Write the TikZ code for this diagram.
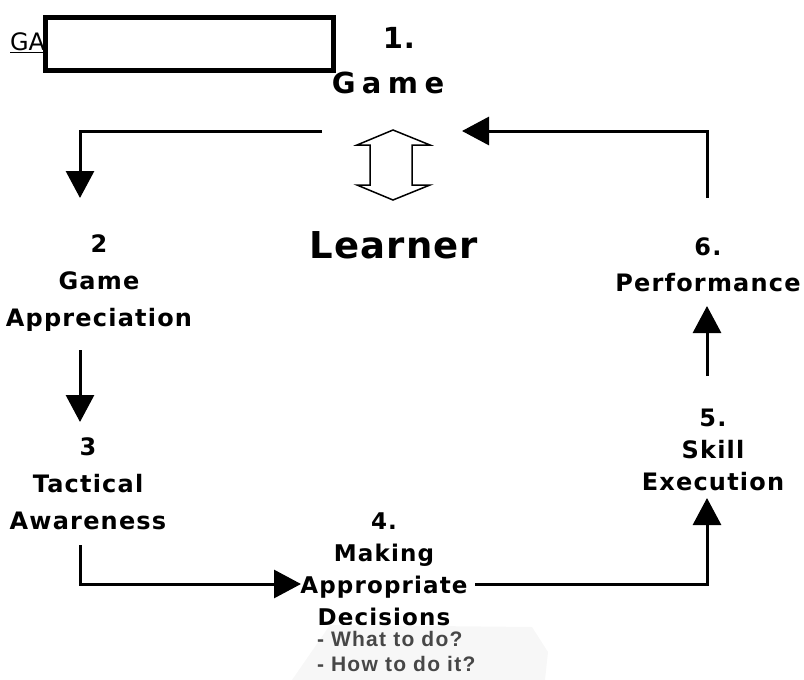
\documentclass[tikz,border=0pt]{standalone}
\usepackage{fontspec}
\setmainfont{DejaVu Sans}
\newfontfamily\stagefont[LetterSpace=5]{DejaVu Sans}
\newfontfamily\titlefont[LetterSpace=22]{DejaVu Sans}
\newfontfamily\learnfont[LetterSpace=3]{DejaVu Sans}
\newfontfamily\notefont[LetterSpace=6]{Liberation Sans}
\usetikzlibrary{arrows.meta}

\begin{document}
\begin{tikzpicture}[x=1pt,y=-1pt]
   \tikzstyle{every node}=[inner sep=0pt, outer sep=0pt]
   \tikzstyle{stage}=[align=center, font=\stagefont\bfseries\fontsize{24}{37}\selectfont]
   \tikzstyle{flow}=[line width=3, -{Triangle[length=27pt,width=28pt]}]

\useasboundingbox (0,0) rectangle (804,680);

% title box
\node[anchor=base west, font=\fontsize{24}{24}\selectfont] (ga) at (10,50) {\underline{GA}};
\node[draw, line width=5, fill=white, minimum width=288, minimum height=53] (gabox) at (189,44) {};

\node[font=\learnfont\bfseries\fontsize{29}{29}\selectfont] (one) at (399,38) {1.};
\node[font=\titlefont\bfseries\fontsize{29}{29}\selectfont] (game) at (388,83) {Game};
\node[font=\learnfont\bfseries\fontsize{37}{37}\selectfont] (learner) at (394,245) {Learner};

% game <-> learner
\draw[line width=1.5, line join=miter] (393,130) -- (430,145) -- (412,145) -- (412,185) -- (430,185)
    -- (393,200) -- (357,185) -- (370,185) -- (370,145) -- (357,145) -- cycle;

% stages
\node[stage] (appr) at (99,283) {2\\Game\\Appreciation};
\node[stage] (tact) at (88,484) {3\\Tactical\\Awareness};
\node[stage, font=\stagefont\bfseries\fontsize{23}{32}\selectfont] (deci) at (384,569) {4.\\Making\\Appropriate\\Decisions};
\node[stage, font=\stagefont\bfseries\fontsize{24}{32}\selectfont] (skill) at (713,450) {5.\\Skill\\Execution};
\node[stage, font=\stagefont\bfseries\fontsize{24}{36}\selectfont] (perf) at (708,265) {6.\\Performance};

\fill[black!3] (330,625) -- (532,627) -- (548,652) -- (545,680) -- (292,680) -- cycle;
\node[anchor=north west, align=left, text=black!72, font=\notefont\bfseries\fontsize{21}{25}\selectfont] (what) at (317,631) {- What to do?\\- How to do it?};

% connectors
\coordinate (gl) at (322,131);
\coordinate (tip2) at (80,198);
\coordinate (a2s) at (80,350);
\coordinate (tip3) at (80,422);
\coordinate (a3s) at (80,545);
\coordinate (tip4) at (301,584);
\coordinate (a4e) at (475,584);
\coordinate (tip5) at (707,498);
\coordinate (a5s) at (707,376);
\coordinate (tip6) at (707,306);
\coordinate (a6s) at (707,198);
\coordinate (tip1) at (462,131);

\draw[flow] (gl) -| (tip2);
\draw[flow] (a2s) -- (tip3);
\draw[flow] (a3s) |- (tip4);
\draw[flow] (a4e) -| (tip5);
\draw[flow] (a5s) -- (tip6);
\draw[flow] (a6s) |- (tip1);

\end{tikzpicture}
\end{document}
